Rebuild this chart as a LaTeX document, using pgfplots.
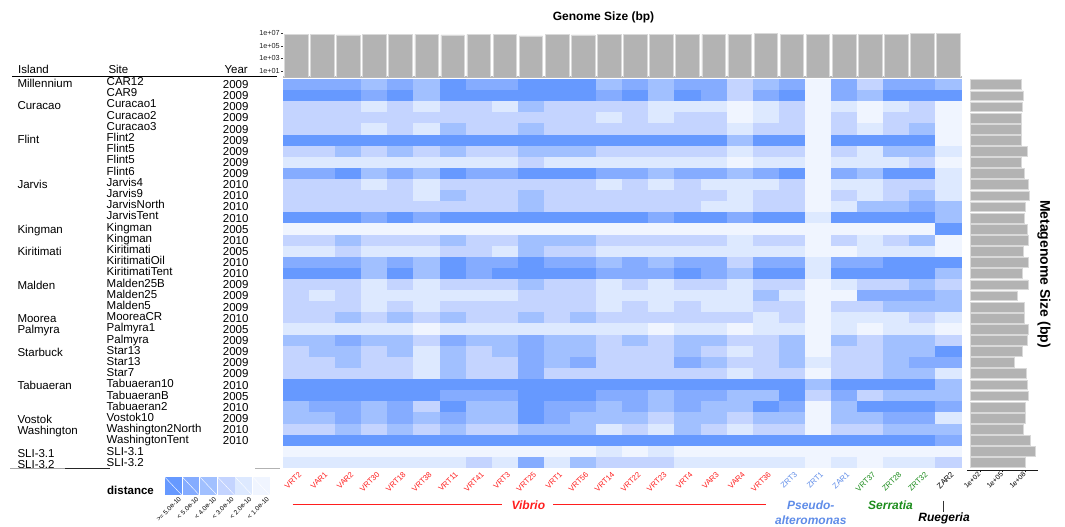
\documentclass[border=0pt]{standalone}
\usepackage{pgfplots}
\pgfplotsset{compat=1.18}
\usepackage{pgfplotstable}
\usepackage{fontspec}
\setmainfont{Liberation Sans}

\definecolor{barg}{RGB}{179,179,179}
\definecolor{vib}{RGB}{255,30,30}
\definecolor{pse}{RGB}{95,140,232}
\definecolor{ser}{RGB}{28,140,28}
\definecolor{h1}{RGB}{240,245,255}
\definecolor{h2}{RGB}{221,233,255}
\definecolor{h3}{RGB}{196,212,255}
\definecolor{h4}{RGB}{161,192,255}
\definecolor{h5}{RGB}{133,172,255}
\definecolor{h6}{RGB}{102,153,255}

% one heatmap cell = 1/26 of the width, 1/35 of the height
\pgfdeclareplotmark{cell}{%
  \pgfpathrectangle{\pgfpoint{-13.07pt}{-5.58pt}}{\pgfpoint{26.14pt}{11.16pt}}%
  \pgfusepathqfill}

% distance class: 1 = < 1.0e-10 ... 6 = >= 5.0e-10
\pgfplotstableread{
c1 c2 c3 c4 c5 c6 c7 c8 c9 c10 c11 c12 c13 c14 c15 c16 c17 c18 c19 c20 c21 c22 c23 c24 c25 c26
5 5 5 4 5 4 6 5 5 6 6 6 4 5 4 5 5 3 4 5 1 5 3 5 5 4
6 6 6 5 6 4 6 6 6 6 6 6 5 6 4 6 5 3 5 6 1 5 4 6 6 6
3 3 3 2 3 2 3 3 2 4 3 3 3 3 2 2 2 1 2 3 1 2 1 2 3 1
3 3 3 3 3 3 3 3 3 3 3 3 2 3 2 3 3 1 2 3 1 3 1 3 3 1
3 3 3 2 3 2 4 3 3 4 3 3 3 3 3 3 3 2 3 3 1 3 2 3 4 1
6 6 6 6 6 6 6 6 6 6 6 6 6 6 6 6 6 4 6 6 1 6 6 6 6 1
3 3 4 3 4 3 4 3 3 4 4 4 3 3 3 3 3 2 3 3 1 3 2 4 4 2
2 2 2 2 2 2 2 2 2 3 2 2 2 2 2 2 2 1 2 2 1 2 2 2 3 1
5 5 6 4 5 4 6 5 5 6 6 6 5 5 4 5 5 4 5 6 1 5 4 6 6 2
3 3 3 2 3 2 3 3 3 3 3 3 2 3 2 3 2 2 2 3 1 2 2 3 3 2
3 3 3 3 3 2 4 3 3 4 3 3 3 3 3 3 3 2 3 3 1 3 2 3 4 2
3 3 3 3 3 3 3 3 3 4 3 3 3 3 3 3 2 2 3 3 1 2 4 4 5 4
6 6 6 5 6 5 6 6 6 6 6 6 6 6 5 6 6 5 6 6 2 6 6 6 6 4
1 1 1 1 1 1 1 1 1 1 1 1 1 1 1 1 1 1 1 1 1 1 1 1 1 6
3 3 4 3 3 3 4 3 3 4 4 4 3 3 3 3 3 2 3 3 1 3 2 3 4 1
2 2 3 2 2 2 3 3 2 4 3 3 2 2 2 2 2 2 2 2 1 1 2 2 2 1
5 5 5 4 5 4 6 5 5 6 5 5 4 5 4 5 5 3 5 5 2 5 5 6 6 6
6 6 6 4 6 4 6 5 6 6 6 6 5 5 5 6 5 4 6 6 2 6 6 6 6 4
3 3 3 2 3 2 3 3 3 4 3 3 2 3 2 3 3 2 3 3 1 2 3 3 4 3
3 2 3 2 2 2 2 2 2 3 3 3 2 2 2 2 2 2 4 2 1 1 5 5 5 4
3 3 3 2 3 2 3 3 3 3 3 3 2 3 2 3 2 2 3 3 1 3 3 4 4 4
3 3 4 3 4 3 4 3 3 4 3 4 3 3 3 3 3 3 2 3 1 2 2 2 3 2
2 2 2 2 2 1 2 2 2 2 2 2 2 2 1 2 2 1 2 2 1 2 1 2 2 1
4 4 5 4 4 3 5 4 4 5 4 4 3 4 3 4 4 3 3 4 1 4 3 4 4 3
3 4 4 3 4 2 4 3 4 5 4 4 3 3 3 4 3 2 3 4 1 3 3 4 4 6
3 3 4 3 3 2 4 3 3 5 4 5 3 3 3 5 4 3 3 4 2 3 3 4 5 5
3 3 3 3 3 2 4 3 3 5 3 3 3 3 3 3 3 2 3 3 1 3 3 4 4 2
6 6 6 6 6 6 6 6 6 6 6 6 6 6 6 6 6 6 6 6 4 6 6 6 6 4
6 6 6 6 6 6 5 5 5 6 6 6 5 5 4 5 5 4 4 6 3 5 3 4 4 4
4 5 5 4 5 3 6 4 4 6 5 5 4 5 4 5 4 4 6 5 1 4 6 6 6 5
4 4 5 4 5 4 5 4 4 6 5 4 4 4 3 4 4 3 4 4 1 4 4 5 5 2
3 3 4 3 4 3 4 3 3 4 4 4 2 3 2 4 3 2 3 3 1 3 3 4 4 4
6 6 6 6 6 6 6 6 6 6 6 6 6 6 6 6 6 6 6 6 6 6 6 6 6 5
1 1 1 1 1 1 1 1 1 1 1 1 2 1 2 1 1 1 1 1 1 1 1 1 1 1
2 2 2 2 2 2 2 3 2 5 2 4 3 3 3 2 2 2 2 2 1 2 1 2 2 3
}\heat

\pgfplotstableread{
c g
1 6.8e6
2 6.8e6
3 5.4e6
4 6.8e6
5 6.8e6
6 6.8e6
7 5.4e6
8 6.8e6
9 6.8e6
10 3.7e6
11 6.8e6
12 5.4e6
13 6.8e6
14 6.8e6
15 6.8e6
16 6.8e6
17 6.8e6
18 6.8e6
19 8.7e6
20 6.8e6
21 6.8e6
22 6.8e6
23 6.8e6
24 6.8e6
25 8.7e6
26 8.7e6
}\genome

\pgfplotstableread{
r m
1 3.3e7
2 5.4e7
3 4.0e7
4 3.3e7
5 3.3e7
6 2.7e7
7 1.55e8
8 3.3e7
9 6.8e7
10 2.5e8
11 3.4e8
12 9.1e7
13 7.4e7
14 1.55e8
15 2.8e8
16 5.4e7
17 2.1e8
18 4.0e7
19 2.1e8
20 8.7e6
21 6.2e7
22 6.2e7
23 2.5e8
24 1.55e8
25 4.0e7
26 3.5e6
27 1.23e8
28 1.55e8
29 2.1e8
30 1.0e8
31 1.0e8
32 5.4e7
33 4.2e8
34 2.1e9
35 9.1e7
}\meta

\newcommand\rowfont{\fontsize{11.5}{12}\selectfont}

\begin{document}
\begin{tikzpicture}
\useasboundingbox (0pt,0pt) rectangle (1065pt,527pt);

%% heatmap
\begin{axis}[
  at={(283pt,59pt)}, anchor=south west, scale only axis,
  width=678.5pt, height=389pt,
  xmin=0.5, xmax=26.5, ymin=-35.5, ymax=-0.5,
  axis line style={draw=none}, axis on top,
  xtick={1,...,26}, ytick=\empty,
  xticklabels={\textcolor{vib}{VRT2},\textcolor{vib}{VAR1},\textcolor{vib}{VAR2},\textcolor{vib}{VRT30},
    \textcolor{vib}{VRT18},\textcolor{vib}{VRT38},\textcolor{vib}{VRT11},\textcolor{vib}{VRT41},
    \textcolor{vib}{VRT3},\textcolor{vib}{VRT25},\textcolor{vib}{VRT1},\textcolor{vib}{VRT56},
    \textcolor{vib}{VRT14},\textcolor{vib}{VRT22},\textcolor{vib}{VRT23},\textcolor{vib}{VRT4},
    \textcolor{vib}{VAR3},\textcolor{vib}{VAR4},\textcolor{vib}{VRT36},
    \textcolor{pse}{ZRT3},\textcolor{pse}{ZRT1},\textcolor{pse}{ZAR1},
    \textcolor{ser}{VRT37},\textcolor{ser}{ZRT28},\textcolor{ser}{ZRT32},ZAR2},
  xticklabel shift=5pt,
  xticklabel style={xshift=4pt, font=\fontsize{7.8}{8}\selectfont, rotate=45, anchor=east, inner sep=0pt},
  major tick length=0pt, minor tick length=0pt,
  minor xtick={1.5,4.5,9.5,12.5,14.5,17.5,20.5,21.5,22.5,25.5},
  minor ytick={-3.5,-10.5,-11.5,-18.5,-19.5,-26.5,-27.5,-31.5,-32.5},
  xminorgrids, yminorgrids,
  minor grid style={draw=white, line width=0.8pt, opacity=0.55},
  colormap={dist}{rgb255=(240,245,255) rgb255=(221,233,255) rgb255=(196,212,255)
    rgb255=(161,192,255) rgb255=(133,172,255) rgb255=(102,153,255)},
  point meta min=1, point meta max=6,
]
\pgfplotsinvokeforeach{1,...,26}{
  \addplot[scatter, only marks, mark=cell, point meta=explicit,
    scatter/use mapped color={draw=none, fill=mapped color}]
    table[x expr=#1, y expr=-\coordindex-1, meta=c#1] {\heat};
}
\end{axis}

%% genome size
\begin{axis}[
  at={(283pt,450pt)}, anchor=south west, scale only axis,
  width=678.5pt, height=46.25pt,
  xmin=0.5, xmax=26.5, ymode=log, ymin=1, ymax=2.5e7,
  axis x line*=bottom, axis y line*=left,
  x axis line style={draw=gray!55, line width=1.3pt},
  y axis line style={draw=none},
  xtick=\empty,
  ytick={10,1000,100000,10000000},
  yticklabels={1e+01,1e+03,1e+05,1e+07},
  tick align=outside, major tick length=2pt,
  ytick style={draw=gray!40!black, line width=0.4pt},
  yticklabel style={font=\fontsize{7.3}{8}\selectfont, text=gray!25!black, inner sep=1pt},
  ybar, bar width=23.5pt,
]
\addplot[fill=barg, draw=white!85!black, line width=0.5pt] table[x=c, y=g] {\genome};
\end{axis}

%% metagenome size
\begin{axis}[
  at={(970pt,57pt)}, anchor=south west, scale only axis,
  width=68pt, height=391pt,
  xmode=log, xmin=4.73, xmax=4.8e9,
  ymin=-35.67, ymax=-0.5,
  axis x line*=bottom, axis y line=none,
  x axis line style={draw=gray!20!black, line width=0.6pt, shorten <=-3pt},
  xtick={100,100000,100000000}, xticklabels={1e+02,1e+05,1e+08},
  tick align=outside, major tick length=2.5pt,
  xtick style={draw=gray!20!black, line width=0.5pt},
  xticklabel style={font=\fontsize{7}{8}\selectfont, rotate=45, anchor=east, inner sep=1pt},
  xbar, bar width=9.8pt, log origin x=infty,
]
\addplot[fill=barg, draw=white!85!black, line width=0.5pt] table[x=m, y expr=-\thisrow{r}] {\meta};
\end{axis}

\begin{scope}[x=1pt,y=1pt]
%% titles
\node[anchor=base, font=\bfseries\fontsize{12}{14}\selectfont] at (603.5,506) {Genome Size (bp)};
\node[rotate=-90, font=\bfseries\fontsize{14}{16}\selectfont] at (1044,253) {Metagenome Size (bp)};

%% sample table
\node[anchor=base west, inner sep=0pt, font=\rowfont] at (18,453.7) {Island};
\node[anchor=base west, inner sep=0pt, font=\rowfont] at (108.3,453.7) {Site};
\node[anchor=base west, inner sep=0pt, font=\rowfont] at (224.3,453.7) {Year};
\draw[black, line width=0.8pt] (12,450.5) -- (277,450.5);
\foreach \i/\isl/\site/\yr in {1/Millennium/CAR12/2009, 2//CAR9/2009, 3/Curacao/Curacao1/2009,
  4//Curacao2/2009, 5//Curacao3/2009, 6/Flint/Flint2/2009, 7//Flint5/2009, 8//Flint5/2009,
  9//Flint6/2009, 10/Jarvis/Jarvis4/2010, 11//Jarvis9/2010, 12//JarvisNorth/2010,
  13//JarvisTent/2010, 14/Kingman/Kingman/2005, 15//Kingman/2010, 16/Kiritimati/Kiritimati/2005,
  17//KiritimatiOil/2010, 18//KiritimatiTent/2010, 19/Malden/Malden25B/2009, 20//Malden25/2009,
  21//Malden5/2009, 22/Moorea/MooreaCR/2010, 23/Palmyra/Palmyra1/2005, 24//Palmyra/2009,
  25/Starbuck/Star13/2009, 26//Star13/2009, 27//Star7/2009, 28/Tabuaeran/Tabuaeran10/2010,
  29//TabuaeranB/2005, 30//Tabuaeran2/2010, 31/Vostok/Vostok10/2009,
  32/Washington/Washington2North/2010, 33//WashingtonTent/2010,
  34/SLI-3.1/SLI-3.1/, 35/SLI-3.2/SLI-3.2/}{
  \pgfmathsetmacro\yb{441.5-(\i-1)*11.2}
  \pgfmathsetmacro\yy{438.5-(\i-1)*11.13}
  \node[anchor=base west, inner sep=0pt, font=\rowfont] at (17.3,\yb-2) {\isl};
  \node[anchor=base west, inner sep=0pt, font=\rowfont] at (106.5,\yb) {\site};
  \node[anchor=base west, inner sep=0pt, font=\rowfont] at (222.7,\yy) {\yr};
}
\draw[gray!70, line width=1pt] (10,58) -- (65,58);
\draw[gray!30!black, line width=1pt] (65,58) -- (110,58);
\draw[gray!60, line width=1pt] (255,58) -- (280,58);

%% legend
\node[anchor=base west, inner sep=0pt, font=\bfseries\fontsize{11.5}{12}\selectfont] at (107,32) {distance};
\foreach \k/\c/\t in {0/h6/{>= 5.0e-10}, 1/h5/{< 5.0e-10}, 2/h4/{< 4.0e-10},
  3/h3/{< 3.0e-10}, 4/h2/{< 2.0e-10}, 5/h1/{< 1.0e-10}}{
  \pgfmathsetmacro\xa{165+\k*17.6}
  \fill[\c] (\xa,32) rectangle (\xa+16.7,49.7);
  \draw[white, line width=0.4pt] (\xa,49.7) -- (\xa+16.7,32);
  \node[rotate=45, anchor=east, inner sep=0pt, font=\fontsize{6.5}{7}\selectfont] at (\xa+15,29) {\t};
}

%% genus groups
\node[anchor=base, inner sep=0pt, text=vib, font=\bfseries\itshape\fontsize{12}{14}\selectfont] at (528.3,17) {Vibrio};
\draw[vib, line width=0.9pt] (292.7,22.7) -- (501.7,22.7);
\draw[vib, line width=0.9pt] (553.3,22.7) -- (766,22.7);
\node[anchor=base, inner sep=0pt, text=pse, font=\bfseries\itshape\fontsize{12}{14}\selectfont] at (810.8,17.7) {Pseudo-};
\node[anchor=base, inner sep=0pt, text=pse, font=\bfseries\itshape\fontsize{12}{14}\selectfont] at (810.8,2) {alteromonas};
\node[anchor=base, inner sep=0pt, text=ser, font=\bfseries\itshape\fontsize{12}{14}\selectfont] at (890.5,17) {Serratia};
\node[anchor=base, inner sep=0pt, font=\bfseries\itshape\fontsize{12}{14}\selectfont] at (944,5.5) {Ruegeria};
\draw[gray!40!black, line width=0.6pt] (943.3,26.3) -- (943.3,14.7);
\end{scope}
\end{tikzpicture}
\end{document}
